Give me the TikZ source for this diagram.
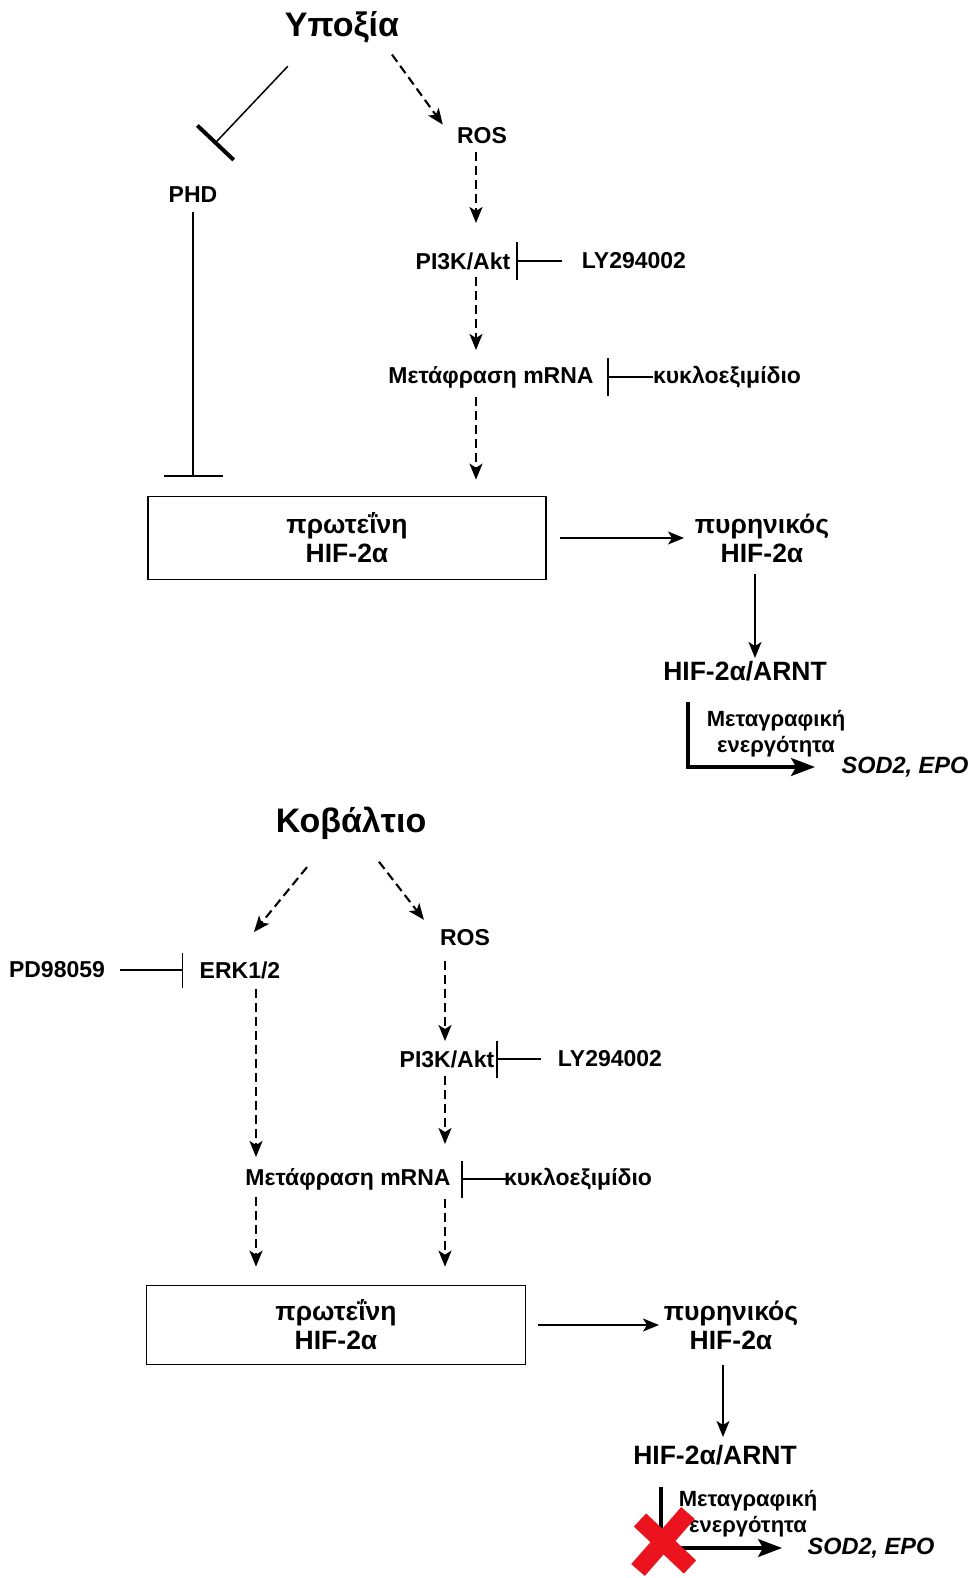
\documentclass[tikz,border=0pt]{standalone}
\usepackage{fontspec}
\setmainfont{Liberation Sans}
\usetikzlibrary{arrows.meta}
\definecolor{CrossRed}{RGB}{235,20,30}

\begin{document}
\begin{tikzpicture}[x=1pt,y=-1pt,
  ttl/.style={font=\fontsize{34}{38}\selectfont\bfseries,inner sep=2pt},
  lbl/.style={font=\fontsize{23}{27}\selectfont\bfseries,inner sep=2pt},
  big/.style={font=\fontsize{26.5}{29}\selectfont\bfseries,align=center,inner sep=2pt},
  act/.style={font=\fontsize{22}{26}\selectfont\bfseries,align=center,inner sep=2pt},
  gene/.style={font=\fontsize{23.5}{27}\selectfont\bfseries\itshape,inner sep=2pt},
  blk/.style={big,draw,line width=1.7pt},
  arr/.style={-{Stealth[length=16pt,width=13pt,inset=4pt]},line width=1.6pt},
  dsh/.style={arr,line width=2.1pt,dash pattern=on 9pt off 5pt},
  inh/.style={-{Bar[width=38pt]},line width=1.5pt},
  trx/.style={-{Stealth[length=24pt,width=18pt,inset=5pt]},line width=3.2pt},
  xmark/.style={CrossRed,line width=18pt},
]
\useasboundingbox (0,0) rectangle (977,1578);

% hypoxia
\node[ttl] (hyp) at (342,27) {Υποξία};
\node[lbl] (ros) at (482,136) {ROS};
\node[lbl] (phd) at (193,195) {PHD};
\node[lbl] (pik) at (463,261) {PI3K/Akt};
\node[lbl] (ly) at (634,261) {LY294002};
\node[lbl] (mrna) at (491,377) {Μετάφραση mRNA};
\node[lbl] (cyc) at (727,377) {κυκλοεξιμίδιο};
\node[blk,minimum width=398pt,minimum height=83pt] (prot) at (347,538) {πρωτεΐνη\\HIF-2α};
\node[big] (nuc) at (762,538) {πυρηνικός\\HIF-2α};
\node[big] (arnt) at (745,671) {HIF-2α/ARNT};
\node[act] (txa) at (776,734) {Μεταγραφική\\ενεργότητα};
\node[gene] (sod) at (905,767) {SOD2, EPO};
\coordinate (ca) at (476,0);
\coordinate (cb) at (755,0);
\coordinate (cc) at (688,0);

\draw[inh,-{Bar[width=50pt,line width=4pt]},shorten <=54pt,shorten >=70pt]
  ([xshift=-17pt]hyp.center) -- ([xshift=-27pt]phd.center);
\draw[dsh,shorten <=34pt,shorten >=14pt] ([xshift=30pt]hyp.center) -- ([xshift=-31pt]ros.center);
\draw[dsh,shorten <=16pt,shorten >=38pt] (ros.center -| ca) -- (pik.center -| ca);
\draw[dsh,shorten <=16pt,shorten >=27pt] (pik.center -| ca) -- (mrna.center -| ca);
\draw[dsh,shorten <=20pt,shorten >=16pt] (mrna.center -| ca) -- (prot.north -| ca);
\draw[inh,shorten <=72pt,shorten >=53pt] (ly.center) -- (pik.center);
\draw[inh,shorten <=74pt,shorten >=116pt] (cyc.center) -- (mrna.center);
\draw[inh,-{Bar[width=59pt]},shorten <=17pt,shorten >=19pt] (phd.center) -- (phd.center |- prot.north);
\draw[arr,shorten <=213pt,shorten >=78pt] (prot.center) -- (nuc.center);
\draw[arr,shorten <=36pt,shorten >=13pt] (nuc.center -| cb) -- (arnt.center -| cb);
\draw[trx,shorten <=31pt,shorten >=90pt] (arnt.center -| cc) |- (sod.center);

% cobalt
\node[ttl] (cob) at (351,823) {Κοβάλτιο};
\node[lbl] (erk) at (240,970) {ERK1/2};
\node[lbl] (pd) at (57,970) {PD98059};
\node[lbl] (ros2) at (465,938) {ROS};
\node[lbl] (pik2) at (447,1059) {PI3K/Akt};
\node[lbl] (ly2) at (610,1059) {LY294002};
\node[lbl] (mrna2) at (348,1179) {Μετάφραση mRNA};
\node[lbl] (cyc2) at (578,1179) {κυκλοεξιμίδιο};
\node[blk,minimum width=379pt,minimum height=79pt] (prot2) at (336,1325) {πρωτεΐνη\\HIF-2α};
\node[big] (nuc2) at (731,1325) {πυρηνικός\\HIF-2α};
\node[big] (arnt2) at (715,1455) {HIF-2α/ARNT};
\node[act] (txb) at (748,1514) {Μεταγραφική\\ενεργότητα};
\node[gene] (sod2) at (871,1548) {SOD2, EPO};
\coordinate (cd) at (256,0);
\coordinate (ce) at (445,0);
\coordinate (cf) at (723,0);
\coordinate (cg) at (661,0);

\draw[dsh,shorten <=57pt,shorten >=49pt] ([xshift=-8pt]cob.center) -- ([xshift=-17pt]erk.center);
\draw[dsh,shorten <=49pt,shorten >=23pt] ([xshift=-2pt]cob.center) -- ([xshift=-27pt]ros2.center);
\draw[inh,-{Bar[width=35pt]},shorten <=63pt,shorten >=57pt] (pd.center) -- (erk.center);
\draw[dsh,shorten <=19pt,shorten >=22pt] (erk.center -| cd) -- (mrna2.center -| cd);
\draw[dsh,shorten <=18pt,shorten >=18pt] (mrna2.center -| cd) -- (prot2.north -| cd);
\draw[dsh,shorten <=23pt,shorten >=18pt] (ros2.center -| ce) -- (pik2.center -| ce);
\draw[dsh,shorten <=17pt,shorten >=35pt] (pik2.center -| ce) -- (mrna2.center -| ce);
\draw[dsh,shorten <=20pt,shorten >=18pt] (mrna2.center -| ce) -- (prot2.north -| ce);
\draw[inh,-{Bar[width=37pt]},shorten <=69pt,shorten >=49pt] (ly2.center) -- (pik2.center);
\draw[inh,-{Bar[width=37pt]},shorten <=72pt,shorten >=113pt] (cyc2.center) -- (mrna2.center);
\draw[arr,shorten <=202pt,shorten >=72pt] (prot2.center) -- (nuc2.center);
\draw[arr,shorten <=40pt,shorten >=18pt] (nuc2.center -| cf) -- (arnt2.center -| cf);
\draw[trx,shorten <=32pt,shorten >=89pt] (arnt2.center -| cg) |- (sod2.center);

% blocked transcription
\draw[xmark] (640,1520) -- (690,1567);
\draw[xmark] (688,1513) -- (638,1570);
\end{tikzpicture}
\end{document}
